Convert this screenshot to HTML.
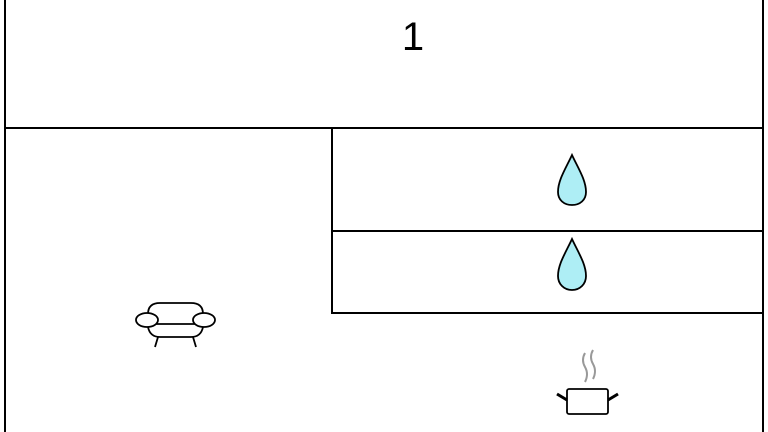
<!DOCTYPE html>
<html><head><style>body{margin:0;background:#fff}</style></head><body>
<svg width="768" height="432" viewBox="0 0 768 432" xmlns="http://www.w3.org/2000/svg" style="display:block">
<rect width="768" height="432" fill="#fff"/>
<g stroke="#000" stroke-width="2" fill="none">
<line x1="5" y1="0" x2="5" y2="432"/>
<line x1="763" y1="0" x2="763" y2="432"/>
<line x1="5" y1="128" x2="763" y2="128"/>
<polyline points="332,128 332,313 763,313"/>
<line x1="332" y1="231" x2="763" y2="231"/>
</g>
<text x="413" y="50" font-family="Liberation Sans, sans-serif" font-size="40" text-anchor="middle">1</text>
<g stroke="#000" stroke-width="1.8" fill="#aeeef5">
<path d="M572 155 C566 168 558 180 558 192 C558 200 564 205 572 205 C580 205 586 200 586 192 C586 180 578 168 572 155 Z"/>
<path d="M572 239 C566 252 558 264 558 276 C558 284 564 290 572 290 C580 290 586 284 586 276 C586 264 578 252 572 239 Z"/>
</g>
<g stroke="#000" stroke-width="1.8" fill="#fff">
<path d="M148 314 Q148 303 160 303 L191 303 Q203 303 203 314"/>
<path d="M148 327 Q150 337 160 337 L191 337 Q201 337 203 327"/>
<line x1="158" y1="337" x2="155" y2="347"/>
<line x1="193" y1="337" x2="196" y2="347"/>
<line x1="155" y1="324" x2="196" y2="324"/>
<ellipse cx="147" cy="320" rx="11" ry="7"/>
<ellipse cx="204" cy="320" rx="11" ry="7"/>
</g>
<g stroke="#000" fill="none">
<rect x="567" y="389" width="41" height="25" rx="2" stroke-width="1.8"/>
<line x1="557" y1="394" x2="567" y2="400" stroke-width="3"/>
<line x1="618" y1="394" x2="608" y2="400" stroke-width="3"/>
</g>
<g stroke="#999" stroke-width="2" fill="none">
<path d="M585 353 Q581 360 585 367 Q589 374 585 382"/>
<path d="M593 350 Q589 357 593 364 Q597 371 593 379"/>
</g>
</svg>
</body></html>
